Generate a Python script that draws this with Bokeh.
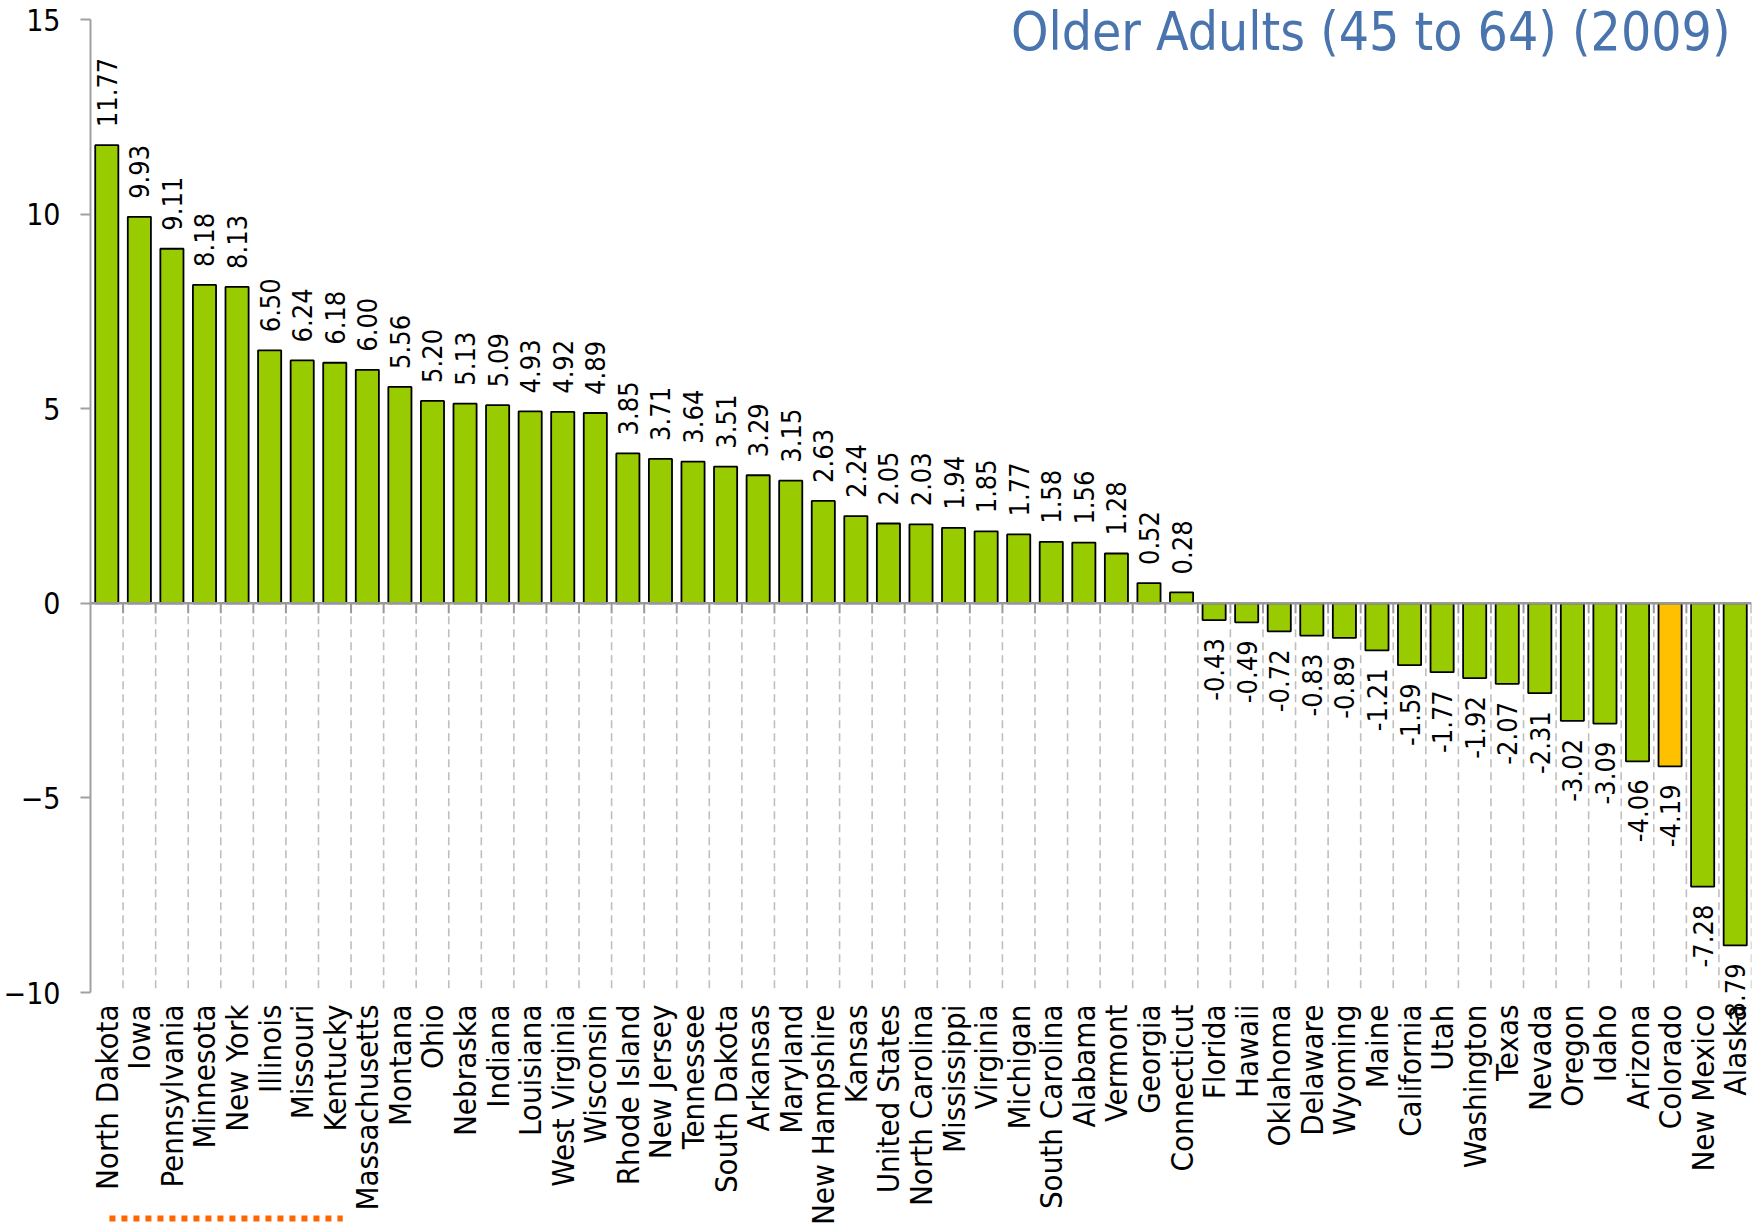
import math
from bokeh.plotting import figure
from bokeh.models import (FactorRange, Range1d, ColumnDataSource, LabelSet, Label,
                          Span, FixedTicker, Arrow)
from bokeh.core.properties import value
from bokeh.transform import dodge
from bokeh.embed import file_html
from bokeh.resources import INLINE

# ---------------- data ----------------
states = ["North Dakota", "Iowa", "Pennsylvania", "Minnesota", "New York", "Illinois",
          "Missouri", "Kentucky", "Massachusetts", "Montana", "Ohio", "Nebraska", "Indiana",
          "Louisiana", "West Virginia", "Wisconsin", "Rhode Island", "New Jersey", "Tennessee",
          "South Dakota", "Arkansas", "Maryland", "New Hampshire", "Kansas", "United States",
          "North Carolina", "Mississippi", "Virginia", "Michigan", "South Carolina", "Alabama",
          "Vermont", "Georgia", "Connecticut", "Florida", "Hawaii", "Oklahoma", "Delaware",
          "Wyoming", "Maine", "California", "Utah", "Washington", "Texas", "Nevada", "Oregon",
          "Idaho", "Arizona", "Colorado", "New Mexico", "Alaska"]
values = [11.77, 9.93, 9.11, 8.18, 8.13, 6.50, 6.24, 6.18, 6.00, 5.56, 5.20, 5.13, 5.09,
          4.93, 4.92, 4.89, 3.85, 3.71, 3.64, 3.51, 3.29, 3.15, 2.63, 2.24, 2.05, 2.03, 1.94,
          1.85, 1.77, 1.58, 1.56, 1.28, 0.52, 0.28, -0.43, -0.49, -0.72, -0.83, -0.89, -1.21,
          -1.59, -1.77, -1.92, -2.07, -2.31, -3.02, -3.09, -4.06, -4.19, -7.28, -8.79]
highlight = "Colorado"
title_text = "Older Adults (45 to 64) (2009)"
y_ticks = [-10, -5, 0, 5, 10, 15]

# ---------------- layout (pixels) ----------------
W, H = 1754, 1228
FRAME_LEFT, FRAME_RIGHT = 85, 1751
AXIS_TOP_PX, AXIS_BOTTOM_PX = 19, 992          # pixel rows of y = 15 and y = -10
ppu = (AXIS_BOTTOM_PX - AXIS_TOP_PX) / (y_ticks[-1] - y_ticks[0])   # pixels per unit
y_start = y_ticks[0] - (H - AXIS_BOTTOM_PX) / ppu
y_end = y_ticks[-1] + AXIS_TOP_PX / ppu

# ---------------- styling ----------------
FONT = "DejaVu Sans Condensed"
GREEN = "#99CC00"
ORANGE = "#FFC000"
AXIS_GRAY = "#A0A0A0"

colors = [ORANGE if s == highlight else GREEN for s in states]
src = ColumnDataSource(dict(state=states, value=values, color=colors))

pos_src = ColumnDataSource(dict(
    state=[s for s, v in zip(states, values) if v >= 0],
    value=[v for v in values if v >= 0],
    label=[f"{v:.2f}" for v in values if v >= 0]))
neg_src = ColumnDataSource(dict(
    state=[s for s, v in zip(states, values) if v < 0],
    value=[v for v in values if v < 0],
    label=[f"{v:.2f}" for v in values if v < 0]))

p = figure(x_range=FactorRange(factors=states, range_padding=0),
           y_range=Range1d(y_start, y_end),
           width=W, height=H, output_backend="svg", toolbar_location=None,
           min_border_left=FRAME_LEFT, min_border_right=W - FRAME_RIGHT,
           min_border_top=0, min_border_bottom=0)
p.outline_line_color = None
p.background_fill_color = "white"
p.border_fill_color = "white"
p.xgrid.visible = False
p.ygrid.visible = False

# short tick marks under the zero line and dashed separators between categories
tick_len = 10 / ppu
p.segment(x0=dodge("state", 0.5, range=p.x_range), y0=0,
          x1=dodge("state", 0.5, range=p.x_range), y1=-tick_len,
          source=src, line_color="#999999", line_width=2)
p.segment(x0=dodge("state", 0.5, range=p.x_range), y0=-tick_len - 3 / ppu,
          x1=dodge("state", 0.5, range=p.x_range), y1=y_ticks[0],
          source=src, line_color="#BFBFBF", line_width=1.6, line_dash="8 5")

# bars
p.vbar(x="state", top="value", bottom=0, width=0.71, source=src,
       fill_color="color", line_color="black", line_width=1.8)

# zero line
p.add_layout(Span(location=0, dimension="width", line_color="#999999", line_width=2.5))

# value labels
p.add_layout(LabelSet(x="state", y="value", text="label", source=pos_src,
                      angle=math.pi / 2, text_align="left", text_baseline="middle",
                      y_offset=18, text_font=value(FONT), text_font_size="27px",
                      text_color="black"))
p.add_layout(LabelSet(x="state", y="value", text="label", source=neg_src,
                      angle=math.pi / 2, text_align="right", text_baseline="middle",
                      y_offset=-18, text_font=value(FONT), text_font_size="27px",
                      text_color="black"))

# x axis (category labels), drawn at y = -10
xa = p.xaxis[0]
xa.fixed_location = y_ticks[0]
xa.major_label_orientation = math.pi / 2
xa.axis_line_color = None
xa.major_tick_line_color = None
xa.minor_tick_line_color = None
xa.major_tick_out = 0
xa.major_tick_in = 0
xa.major_label_standoff = 12
xa.major_label_text_font = FONT
xa.major_label_text_font_size = "31px"
xa.major_label_text_color = "black"

# y axis
ya = p.yaxis[0]
ya.ticker = FixedTicker(ticks=y_ticks)
ya.bounds = (y_ticks[0], y_ticks[-1])
ya.axis_line_color = AXIS_GRAY
ya.axis_line_width = 2
ya.major_tick_line_color = AXIS_GRAY
ya.major_tick_line_width = 2
ya.major_tick_out = 10
ya.major_tick_in = 0
ya.minor_tick_line_color = None
ya.major_label_standoff = 20
ya.major_label_text_font = FONT
ya.major_label_text_font_size = "30px"
ya.major_label_text_color = "black"

# title (top right, overlapping the plot area)
p.add_layout(Label(x=len(states), y=y_ticks[-1], x_offset=-21, y_offset=-12,
                   text=title_text, text_align="right", text_baseline="alphabetic",
                   text_font=FONT, text_font_size="53px", text_color="#4A74AE"))

# ---------------- decoration: orange dotted rule at the bottom left ----------------
px_per_cat = (FRAME_RIGHT - FRAME_LEFT) / len(states)


def dx(px):
    return (px - FRAME_LEFT) / px_per_cat


def dy(py):
    return y_ticks[-1] - (py - AXIS_TOP_PX) / ppu


p.add_layout(Arrow(end=None, x_start=dx(104), y_start=dy(1218), x_end=dx(338), y_end=dy(1218),
                   line_color="#FF6600", line_width=6, line_dash="6 6"))

open("out.html", "w").write(file_html(p, INLINE))
